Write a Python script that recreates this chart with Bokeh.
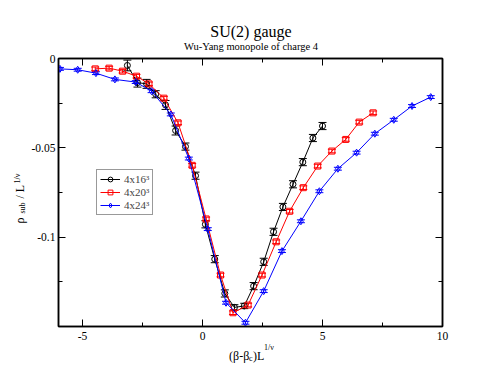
import math
from bokeh.plotting import figure
from bokeh.models import (ColumnDataSource, Whisker, TeeHead, Range1d, FixedTicker,
                          LinearAxis, Label)
from bokeh.embed import file_html
from bokeh.resources import INLINE

# ---------------- data ----------------
x16 = [-3.13, -2.71, -2.33, -1.95, -1.54, -1.12, -0.71, -0.29, 0.12, 0.51, 0.93,
       1.33, 1.74, 2.13, 2.55, 2.96, 3.35, 3.77, 4.18, 4.60, 5.00]
y16 = [-0.0039, -0.0135, -0.0142, -0.0200, -0.0260, -0.0403, -0.0493, -0.0656, -0.0928,
       -0.1123, -0.1315, -0.1393, -0.1385, -0.1274, -0.1138, -0.0970, -0.0831, -0.0704,
       -0.0580, -0.0445, -0.0378]
e16 = [0.0030, 0.0025, 0.0025, 0.0020, 0.0025, 0.0025, 0.0020, 0.0020, 0.0020, 0.0020,
       0.0020, 0.0015, 0.0015, 0.0020, 0.0020, 0.0020, 0.0020, 0.0020, 0.0020, 0.0020, 0.0020]

x20 = [-4.47, -3.89, -3.33, -2.75, -2.23, -1.61, -1.02, -0.43, 0.15, 0.75, 1.27,
       1.90, 2.48, 3.07, 3.63, 4.20, 4.80, 5.39, 5.97, 6.53, 7.11]
y20 = [-0.0058, -0.0054, -0.0071, -0.0099, -0.0142, -0.0222, -0.0360, -0.0598, -0.0898,
       -0.1212, -0.1423, -0.1380, -0.1212, -0.1026, -0.0855, -0.0723, -0.0602, -0.0518,
       -0.0453, -0.0356, -0.0304]
e20 = [0.0010] * 21

x24 = [-5.94, -5.20, -4.44, -3.65, -2.78, -2.12, -1.32, -0.57, 0.22, 0.98, 1.79,
       2.55, 3.31, 4.10, 4.87, 5.64, 6.42, 7.18, 7.97, 8.73, 9.51]
y24 = [-0.0058, -0.0063, -0.0082, -0.0117, -0.0132, -0.0183, -0.0313, -0.0560, -0.0955,
       -0.1367, -0.1479, -0.1302, -0.1078, -0.0911, -0.0743, -0.0617, -0.0527, -0.0421,
       -0.0343, -0.0266, -0.0216]
e24 = [0.0008] * 21

series_labels = ["4x16\u00b3", "4x20\u00b3", "4x24\u00b3"]

x_major = [-5, 0, 5, 10]
x_minor = [-2.5, 2.5, 7.5]
x_tick_labels = ["-5", "0", "5", "10"]
y_major = [-0.1, -0.05, 0]
y_minor = [-0.125, -0.075, -0.025]
y_tick_labels = ["-0.1", "-0.05", "0"]

SERIF = "Liberation Serif"

# ---------------- layout geometry (canvas pixels) ----------------
W, H = 482, 369
FL, FT, FR, FB = 57, 58, 442, 326          # frame edges
X0, X1, Y0, Y1 = -6, 10, -0.15, 0


def px_x(px):
    return X0 + (px - FL) * (X1 - X0) / (FR - FL)


def px_y(py):
    return Y1 - (py - FT) * (Y1 - Y0) / (FB - FT)


# ---------------- figure ----------------
p = figure(width=W, height=H, x_range=Range1d(X0, X1), y_range=Range1d(Y0, Y1),
           output_backend="svg", toolbar_location=None,
           min_border_left=FL, min_border_right=W - FR, min_border_top=FT,
           min_border_bottom=H - FB)
p.grid.visible = False
p.outline_line_color = "black"
p.outline_line_width = 1.5
p.background_fill_color = "white"
p.border_fill_color = "white"
p.title.visible = False

p.add_layout(LinearAxis(), "above")
p.add_layout(LinearAxis(), "right")


def style_axis(ax, major, minor, labels, show):
    ax.ticker = FixedTicker(ticks=major, minor_ticks=minor)
    ax.axis_line_color = "black"
    ax.axis_line_width = 1.5
    ax.major_tick_in = 7
    ax.major_tick_out = 0
    ax.minor_tick_in = 4
    ax.minor_tick_out = 0
    ax.major_tick_line_color = "black"
    ax.minor_tick_line_color = "black"
    ax.major_tick_line_width = 1
    ax.minor_tick_line_width = 1
    ax.major_label_text_font = SERIF
    ax.major_label_text_font_size = "11.5px"
    ax.major_label_text_color = "black"
    ax.major_label_overrides = dict(zip(major, labels if show else [""] * len(major)))
    ax.major_label_standoff = 5 if show else 0


style_axis(p.below[0], x_major, x_minor, x_tick_labels, True)
style_axis(p.above[0], x_major, x_minor, x_tick_labels, False)
style_axis(p.left[0], y_major, y_minor, y_tick_labels, True)
style_axis(p.right[0], y_major, y_minor, y_tick_labels, False)
p.left[0].major_label_standoff = 3

# ---------------- series ----------------
specs = [
    (x16, y16, e16, "black", "circle", series_labels[0]),
    (x20, y20, e20, "red", "square", series_labels[1]),
    (x24, y24, e24, "blue", "diamond", series_labels[2]),
]
for xs, ys, es, col, mk, lab in specs:
    src = ColumnDataSource(dict(x=xs, y=ys,
                                lo=[a - b for a, b in zip(ys, es)],
                                hi=[a + b for a, b in zip(ys, es)]))
    w = Whisker(source=src, base="x", lower="lo", upper="hi", line_color=col, line_width=1,
                upper_head=TeeHead(size=8, line_color=col, line_width=1),
                lower_head=TeeHead(size=8, line_color=col, line_width=1))
    p.add_layout(w)
    p.line("x", "y", source=src, line_color=col, line_width=1, legend_label=lab)
    p.scatter("x", "y", source=src, marker=mk, size=6 if mk != "diamond" else 7,
              line_color=col, fill_color=None, line_width=1, legend_label=lab)

lg = p.legend[0]
lg.location = (38, 111)
lg.label_text_font = SERIF
lg.label_text_font_size = "11px"
lg.glyph_width = 20
lg.glyph_height = 12
lg.label_height = 12
lg.label_standoff = 4
lg.spacing = 1
lg.padding = 3
lg.margin = 0
lg.border_line_color = "#333333"
lg.border_line_width = 1
lg.background_fill_color = "white"
lg.background_fill_alpha = 1


# ---------------- texts ----------------
# Labels live in the side panels (so they are not clipped by the frame) and are
# anchored through the plot scales at fixed canvas-pixel positions.
def mk_label(text, px, py, size, angle=0.0, align="left"):
    return Label(x=px_x(px), y=px_y(py), x_units="data", y_units="data", text=text,
                 text_font=SERIF, text_font_size=size, text_color="black",
                 angle=angle, text_align=align, text_baseline="alphabetic")


A = math.pi / 2
title = mk_label("SU(2) gauge", 250, 31, "16px", align="center")
subtitle = mk_label("Wu-Yang monopole of charge 4", 250, 46, "10.5px", align="center")
xt_main1 = mk_label("(\u03b2-\u03b2", 228, 355, "12px")
xt_sub = mk_label("c", 248, 358, "8px")
xt_main2 = mk_label(")L", 252, 355, "12px")
xt_sup = mk_label("1/\u03bd", 263, 347, "8px")
yt_main1 = mk_label("\u03c1", 18.5, 223, "12px", angle=A)
yt_sub = mk_label("sub", 21, 213, "8px", angle=A)
yt_main2 = mk_label("/ L", 18.5, 198, "12px", angle=A)
yt_sup = mk_label("1/\u03bd", 15.5, 183, "8px", angle=A)

p.above = list(p.above) + [title, subtitle, xt_sup]
p.below = list(p.below) + [xt_main1]
p.left = list(p.left) + [yt_main1, yt_main2]
p.right = list(p.right) + [xt_main2, xt_sub, yt_sub, yt_sup]

open("out.html", "w").write(file_html(p, INLINE))
